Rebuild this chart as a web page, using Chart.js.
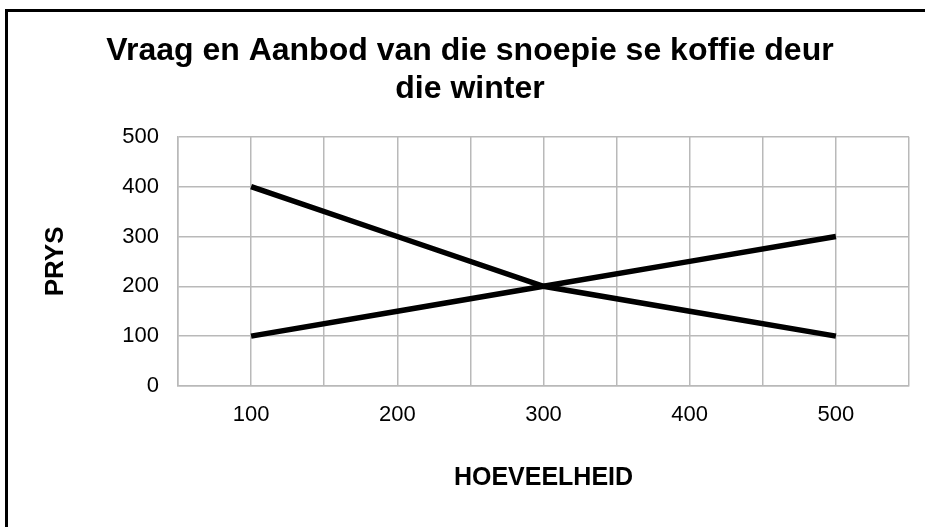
<!DOCTYPE html>
<html>
<head>
<meta charset="utf-8">
<script src="https://cdn.jsdelivr.net/npm/chart.js@4.4.0/dist/chart.umd.min.js"></script>
<style>
  body { margin: 0; background: #fff; }
  #wrap { position: relative; width: 925px; height: 527px; }
  #frame {
    position: absolute; left: 5px; top: 9px; right: 0; bottom: 0;
    border-top: 3px solid #000; border-left: 3px solid #000;
    pointer-events: none;
  }
</style>
</head>
<body>
<div id="wrap">
  <canvas id="chart" width="925" height="527"></canvas>
  <div id="frame"></div>
</div>
<script>
const quantities = [100, 200, 300, 400, 500];
const demand = [400, 300, 200, 150, 100];
const supply = [100, 150, 200, 250, 300];

const gridColour = '#b9b9b9';
const fontFamily = 'Liberation Sans, Arial, sans-serif';

function toPoints(values) {
    return quantities.map((q, i) => ({ x: q, y: values[i] }));
}

const ctx = document.getElementById('chart');

new Chart(ctx, {
    type: 'line',
    data: {
        datasets: [{
            label: 'Vraag',
            data: toPoints(demand),
            borderColor: '#000',
            borderWidth: 5.5,
            pointRadius: 0,
            fill: false
        }, {
            label: 'Aanbod',
            data: toPoints(supply),
            borderColor: '#000',
            borderWidth: 5.5,
            pointRadius: 0,
            fill: false
        }]
    },
    options: {
        responsive: false,
        animation: false,
        layout: { padding: { top: 0, right: 16, bottom: 0, left: 31 } },
        plugins: {
            legend: { display: false },
            tooltip: { enabled: false },
            title: {
                display: true,
                text: ['Vraag en Aanbod van die snoepie se koffie deur', 'die winter'],
                color: '#000',
                font: { family: fontFamily, size: 32, weight: 'bold', lineHeight: 1.2 },
                padding: { top: 32, bottom: 28 }
            }
        },
        scales: {
            x: {
                type: 'linear',
                min: 50,
                max: 550,
                afterFit: scale => { scale.height = 141; },
                ticks: {
                    stepSize: 50,
                    padding: 16,
                    color: '#000',
                    font: { family: fontFamily, size: 22 },
                    callback: v => (v % 100 === 0 && v >= 100 && v <= 500) ? v : ''
                },
                grid: { color: gridColour, lineWidth: 1.5, drawTicks: false },
                border: { color: gridColour, width: 1.5 },
                title: {
                    display: true,
                    text: 'HOEVEELHEID',
                    color: '#000',
                    font: { family: fontFamily, size: 25, weight: 'bold' },
                    padding: { top: 0, bottom: 34 }
                }
            },
            y: {
                min: 0,
                max: 500,
                afterFit: scale => { scale.width = 147; },
                ticks: {
                    stepSize: 100,
                    padding: 19,
                    color: '#000',
                    font: { family: fontFamily, size: 22 }
                },
                grid: { color: gridColour, lineWidth: 1.5, drawTicks: false },
                border: { color: gridColour, width: 1.5 },
                title: {
                    display: true,
                    text: 'PRYS',
                    color: '#000',
                    font: { family: fontFamily, size: 26, weight: 'bold' },
                    padding: { top: 9, bottom: 0 }
                }
            }
        }
    }
});
</script>
</body>
</html>
